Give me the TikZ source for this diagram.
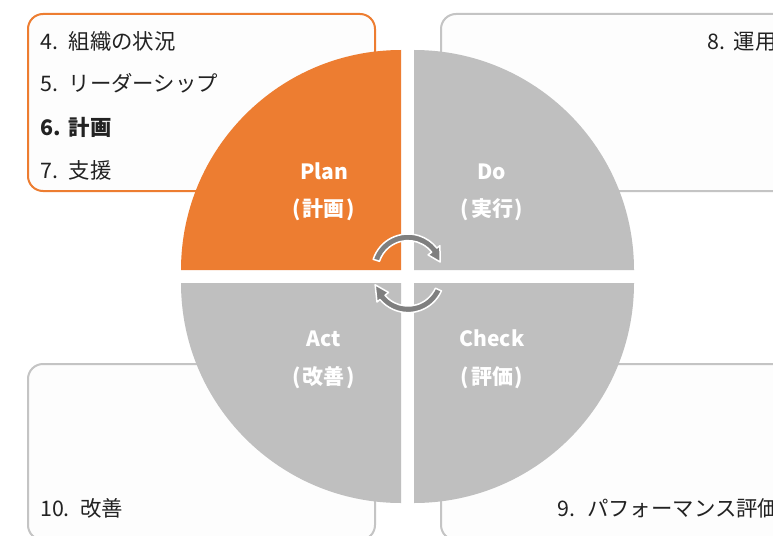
\documentclass[tikz,border=0pt]{standalone}
\usepackage{fontspec}
\setmainfont{Noto Sans CJK JP}
\usetikzlibrary{calc}
\definecolor{orng}{HTML}{ED7D31}
\definecolor{qgray}{HTML}{BFBFBF}
\definecolor{bgray}{HTML}{C4C4C4}
\definecolor{agray}{HTML}{7F7F7F}
\definecolor{txt}{HTML}{222222}
\definecolor{boxfill}{HTML}{FDFDFD}
\begin{document}
\begin{tikzpicture}[x=1pt,y=-1pt,
  box/.style={line width=2pt, rounded corners=15pt, fill=boxfill},
  quad/.style={fill=qgray},
  item/.style={anchor=base west, inner sep=0pt, text=txt, font=\fontsize{21.4}{21.4}\selectfont},
  lab/.style={anchor=base, inner sep=0pt, text=white, font=\bfseries\fontsize{21}{21}\selectfont},
  cyc/.style={fill=agray, draw=white, line width=1.5pt, line join=round}]
\useasboundingbox (0,0) rectangle (773,535);
\clip (0,0) rectangle (773,535);
\fill[white] (0,0) rectangle (773,535);
% boxes
\draw[box, draw=orng]  (28,14)  rectangle (375,191);
\draw[box, draw=bgray] (441,14) rectangle (800,191);
\draw[box, draw=bgray] (28,364) rectangle (375,540);
\draw[box, draw=bgray] (441,364) rectangle (800,540);
% box texts
\node[item] (t4) at (40,49) {\makebox[28.5pt][l]{4. }組織の状況};
\node[item] (t5) at (40,92) {\makebox[28.5pt][l]{5. }リーダーシップ};
\node[item, font=\bfseries\fontsize{21.4}{21.4}\selectfont] (t6) at (40,135) {\makebox[28.5pt][l]{6. }計画};
\node[item] (t7) at (40,178) {\makebox[28.5pt][l]{7. }支援};
\node[item] (t8) at (707,49) {\makebox[26.5pt][l]{8. }運用};
\node[item] (t9) at (557,516) {\makebox[30pt][l]{9. }パフォーマンス評価};
\node[item] (t10) at (40,516) {\makebox[40pt][l]{10. }改善};
% quadrants
\fill[orng] (401,270) -- ++(-220,0) arc[start angle=180, end angle=270, radius=220] -- cycle;
\fill[quad] (414,270) -- ++(0,-220) arc[start angle=270, end angle=360, radius=220] -- cycle;
\fill[quad] (414,283) -- ++(220,0) arc[start angle=0, end angle=90, radius=220] -- cycle;
\fill[quad] (401,283) -- ++(0,220) arc[start angle=90, end angle=180, radius=220] -- cycle;
% labels
\node[lab] (plan)  at (324,179) {Plan};
\node[lab] (planj) at (324,216) {(\kern2pt計画\kern2pt)};
\node[lab] (do)    at (492,179) {Do};
\node[lab] (doj)   at (492,216) {(\kern2pt実行\kern2pt)};
\node[lab] (act)   at (324,346.5) {Act};
\node[lab] (actj)  at (324,384) {(\kern2pt改善\kern2pt)};
\node[lab] (chk)   at (492,346.5) {Check};
\node[lab] (chkj)  at (492,384) {(\kern2pt評価\kern2pt)};
% cycle arrows
\coordinate (T) at (408,270.6);
\coordinate (B) at (408,276);
\filldraw[cyc] ($(T)+(198:36.6)$) arc[start angle=198, end angle=322, radius=36.6]
  -- ($(T)+(322:40.5)$) -- ($(T)+(345:33.3)$) -- ($(T)+(322:25.5)$) -- ($(T)+(322:30)$)
  arc[start angle=322, end angle=198, radius=30] -- cycle;
\filldraw[cyc] ($(B)+(24:36.6)$) arc[start angle=24, end angle=140, radius=36.6]
  -- ($(B)+(140:40.5)$) -- ($(B)+(165:34)$) -- ($(B)+(140:25.5)$) -- ($(B)+(140:30)$)
  arc[start angle=140, end angle=24, radius=30] -- cycle;
\end{tikzpicture}
\end{document}
